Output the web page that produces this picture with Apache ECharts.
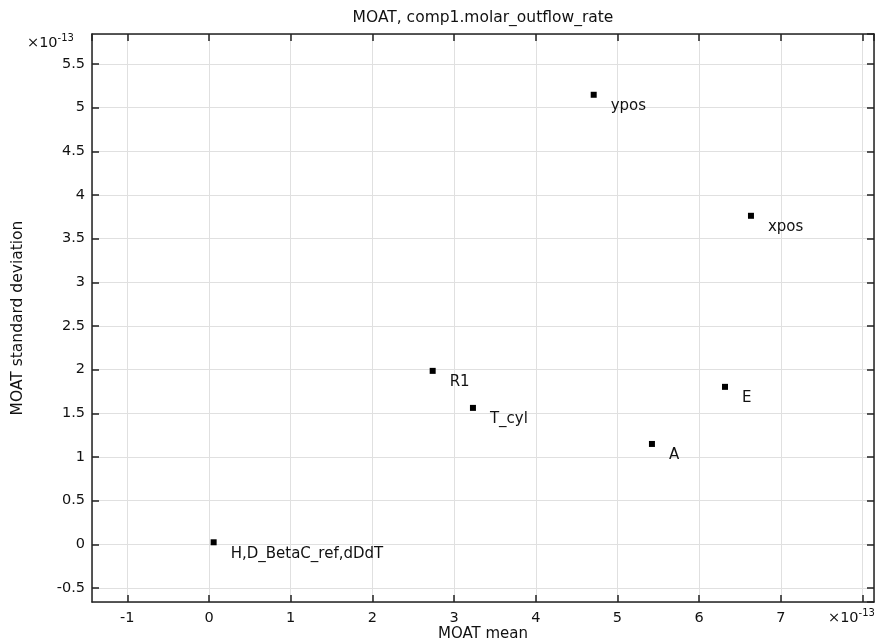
<!DOCTYPE html>
<html>
<head>
<meta charset="utf-8">
<script src="https://cdn.jsdelivr.net/npm/echarts@6/dist/echarts.min.js"></script>
<style>
html,body{margin:0;padding:0;background:#fff;}
#chart{width:878px;height:642px;}
</style>
</head>
<body>
<div id="chart"></div>
<script>
// Data (units of 1e-13)
const names = ['ypos', 'xpos', 'R1', 'T_cyl', 'E', 'A', 'H,D_BetaC_ref,dDdT'];
const moatMean = [4.709, 6.634, 2.738, 3.231, 6.316, 5.422, 0.057];
const moatStd = [5.148, 3.762, 1.986, 1.562, 1.803, 1.149, 0.023];

const xMin = -1.432, xMax = 8.14;
const yMin = -0.661, yMax = 5.844;

const FONT = 'DejaVu Sans';
const TXT = '#111';
const AX = '#222';
const GRID = '#e0e0e0';

const pts = names.map((n, i) => ({ name: n, value: [moatMean[i], moatStd[i]] }));

function isMult(v, step) {
  const r = v / step;
  return Math.abs(r - Math.round(r)) < 1e-9;
}
function fmtX(v) {
  if (!isMult(v, 1)) return '';
  const r = Math.round(v);
  if (r === 8) return '';
  return String(r);
}
function fmtY(v) {
  if (!isMult(v, 0.5)) return '';
  const r = Math.round(v * 2) / 2;
  return String(r);
}

const chart = echarts.init(document.getElementById('chart'), null, { renderer: 'canvas' });

const gridL = 92, gridR = 4, gridT = 34, gridB = 40;

const baseAxisLine = { show: true, onZero: false, lineStyle: { color: AX, width: 1.5 } };
const baseTick = { show: true, inside: true, length: 7, lineStyle: { color: AX, width: 1.5 } };

chart.setOption({
  animation: false,
  backgroundColor: '#fff',
  textStyle: { fontFamily: FONT },
  grid: { left: gridL, right: gridR, top: gridT, bottom: gridB, containLabel: false, outerBoundsMode: 'none' },
  xAxis: [
    {
      type: 'value', position: 'bottom', min: xMin, max: xMax, splitNumber: 10,
      name: 'MOAT mean', nameLocation: 'middle', nameGap: 25, nameMoveOverlap: false,
      nameTextStyle: { color: TXT, fontSize: 15, fontFamily: FONT },
      axisLine: baseAxisLine, axisTick: baseTick,
      axisLabel: { color: TXT, fontSize: 14.5, fontFamily: FONT, margin: 9, formatter: fmtX, showMinLabel: false, showMaxLabel: false },
      splitLine: { show: true, lineStyle: { color: GRID, width: 1 } }
    },
    {
      type: 'value', position: 'top', min: xMin, max: xMax, splitNumber: 10,
      axisLine: baseAxisLine, axisTick: baseTick,
      axisLabel: { show: false }, splitLine: { show: false }
    }
  ],
  yAxis: [
    {
      type: 'value', position: 'left', min: yMin, max: yMax, splitNumber: 13,
      name: 'MOAT standard deviation', nameLocation: 'middle', nameGap: 66, nameRotate: 90,
      nameTextStyle: { color: TXT, fontSize: 15.5, fontFamily: FONT },
      axisLine: baseAxisLine, axisTick: baseTick,
      axisLabel: { color: TXT, fontSize: 14.5, fontFamily: FONT, margin: 7, formatter: fmtY, showMinLabel: false, showMaxLabel: false },
      splitLine: { show: true, lineStyle: { color: GRID, width: 1 } }
    },
    {
      type: 'value', position: 'right', min: yMin, max: yMax, splitNumber: 13,
      axisLine: baseAxisLine, axisTick: baseTick,
      axisLabel: { show: false }, splitLine: { show: false }
    }
  ],
  series: [{
    type: 'scatter',
    xAxisIndex: 0, yAxisIndex: 0,
    symbol: 'rect', symbolSize: 6,
    itemStyle: { color: '#000', opacity: 1 },
    data: pts,
    label: {
      show: true, position: 'right', distance: 14, offset: [0, 11.5],
      formatter: p => p.name,
      color: TXT, fontSize: 15, fontFamily: FONT
    },
    emphasis: { disabled: true }
  }],
  graphic: [
    {
      type: 'text', x: 483, y: 18, silent: true,
      style: { text: 'MOAT, comp1.molar_outflow_rate', fill: TXT, font: '15.5px "DejaVu Sans"', textAlign: 'center', textVerticalAlign: 'middle' }
    },
    {
      type: 'text', silent: true, x: 27, y: 42,
      style: {
        text: '{b|×10}{s|-13}', fill: TXT,
        rich: {
          b: { fontSize: 14.5, fontFamily: FONT, fill: TXT, verticalAlign: 'bottom' },
          s: { fontSize: 10, fontFamily: FONT, fill: TXT, verticalAlign: 'top', padding: [0, 0, 8, 0] }
        },
        textVerticalAlign: 'middle'
      }
    },
    {
      type: 'text', silent: true, x: 828, y: 617,
      style: {
        text: '{b|×10}{s|-13}', fill: TXT,
        rich: {
          b: { fontSize: 14.5, fontFamily: FONT, fill: TXT, verticalAlign: 'bottom' },
          s: { fontSize: 10, fontFamily: FONT, fill: TXT, verticalAlign: 'top', padding: [0, 0, 8, 0] }
        },
        textVerticalAlign: 'middle'
      }
    }
  ]
});
</script>
</body>
</html>
